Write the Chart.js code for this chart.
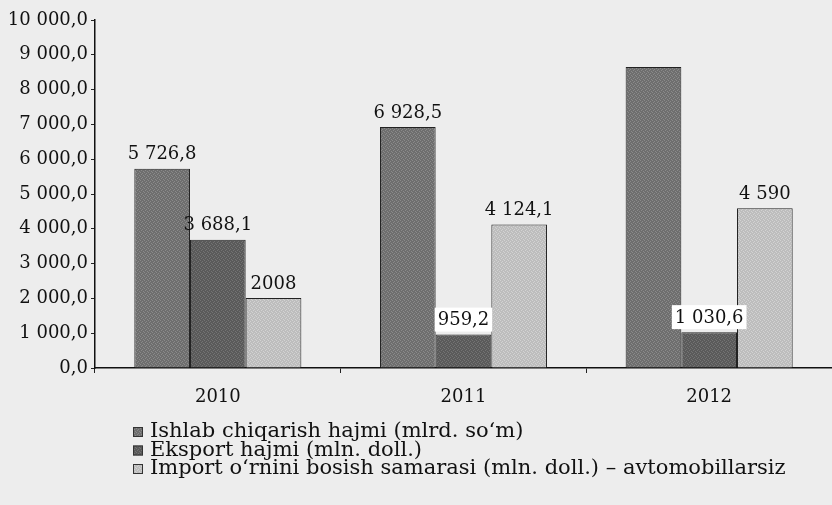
<!DOCTYPE html>
<html>
<head>
<meta charset="utf-8">
<script src="https://cdn.jsdelivr.net/npm/chart.js@4"></script>
<style>
  html, body { margin: 0; padding: 0; background: #ededed; }
  #wrap { width: 832px; height: 505px; position: relative; }
</style>
</head>
<body>
<div id="wrap"><canvas id="myChart" width="832" height="505"></canvas></div>
<script>
const years = ['2010', '2011', '2012'];
const production = [5726.8, 6928.5, 8650];
const exportVol = [3688.1, 959.2, 1030.6];
const importSub = [2008, 4124.1, 4590];
const productionText = ['5 726,8', '6 928,5', null];
const exportText = ['3 688,1', '959,2', '1 030,6'];
const importText = ['2008', '4 124,1', '4 590'];
const yTicks = ['0,0', '1 000,0', '2 000,0', '3 000,0', '4 000,0', '5 000,0',
  '6 000,0', '7 000,0', '8 000,0', '9 000,0', '10 000,0'];
const seriesNames = [
  'Ishlab chiqarish hajmi (mlrd. so‘m)',
  'Eksport hajmi (mln. doll.)',
  'Import o‘rnini bosish samarasi (mln. doll.) – avtomobillarsiz'
];

const SERIF = '"DejaVu Serif", "Liberation Serif", serif';

// grainy fill like the printed halftone
function grain(a, b) {
  const c = document.createElement('canvas');
  c.width = 4; c.height = 4;
  const g = c.getContext('2d');
  g.fillStyle = a; g.fillRect(0, 0, 4, 4);
  g.fillStyle = b;
  g.fillRect(0, 0, 1, 1); g.fillRect(2, 1, 1, 1); g.fillRect(1, 2, 1, 1); g.fillRect(3, 3, 1, 1);
  return g;
}
const ctx = document.getElementById('myChart').getContext('2d');
const fills = [
  ctx.createPattern(grain('#6e6e6e', '#8a8a8a').canvas, 'repeat'),
  ctx.createPattern(grain('#5a5a5a', '#737373').canvas, 'repeat'),
  ctx.createPattern(grain('#bdbdbd', '#d2d2d2').canvas, 'repeat')
];
const texts = [productionText, exportText, importText];

const valueLabels = {
  id: 'valueLabels',
  afterDatasetsDraw(chart) {
    const c = chart.ctx;
    c.save();
    c.font = '18px ' + SERIF;
    c.textAlign = 'center';
    c.textBaseline = 'bottom';
    chart.data.datasets.forEach((ds, i) => {
      chart.getDatasetMeta(i).data.forEach((bar, j) => {
        const t = texts[i][j];
        if (!t) return;
        const y = bar.y - 5;
        if (i === 1 && j > 0) {
          const w = c.measureText(t).width;
          c.fillStyle = '#ffffff';
          c.fillRect(bar.x - w / 2 - 3, y - 22, w + 6, 24);
        }
        c.fillStyle = '#111';
        c.fillText(t, bar.x, y);
      });
    });
    c.restore();
  }
};

const bottomLegend = {
  id: 'bottomLegend',
  afterDraw(chart) {
    const c = chart.ctx;
    c.save();
    c.font = '21px ' + SERIF;
    c.textBaseline = 'middle';
    c.textAlign = 'left';
    const x0 = 133, y0 = 432, step = 18.5;
    chart.data.datasets.forEach((ds, i) => {
      const y = y0 + i * step;
      c.fillStyle = fills[i];
      c.fillRect(x0, y - 5, 10, 10);
      c.strokeStyle = '#333';
      c.lineWidth = 1;
      c.strokeRect(x0 + 0.5, y - 4.5, 9, 9);
      c.fillStyle = '#111';
      c.fillText(ds.label, x0 + 17, y);
    });
    c.restore();
  }
};

new Chart(ctx, {
  type: 'bar',
  data: {
    labels: years,
    datasets: [
      { label: seriesNames[0], data: production, backgroundColor: fills[0], borderColor: '#222', borderWidth: 1 },
      { label: seriesNames[1], data: exportVol, backgroundColor: fills[1], borderColor: '#222', borderWidth: 1 },
      { label: seriesNames[2], data: importSub, backgroundColor: fills[2], borderColor: '#222', borderWidth: 1 }
    ]
  },
  options: {
    responsive: false,
    animation: false,
    layout: { padding: { top: 20, right: 0, bottom: 85, left: 0 } },
    datasets: { bar: { barPercentage: 1, categoryPercentage: 0.68 } },
    scales: {
      y: {
        min: 0,
        max: 10000,
        afterFit(scale) { scale.width = 95; },
        ticks: {
          stepSize: 1000,
          color: '#111',
          font: { family: SERIF, size: 18 },
          padding: 3,
          callback: (v, i) => yTicks[i]
        },
        grid: { display: true, drawOnChartArea: false, tickLength: 4, color: '#222' },
        border: { display: true, color: '#111', width: 1.5 }
      },
      x: {
        afterFit(scale) { scale.height = 52; },
        ticks: {
          color: '#111',
          font: { family: SERIF, size: 18 },
          padding: 14
        },
        grid: { display: true, offset: true, drawOnChartArea: false, tickLength: 5, color: '#222' },
        border: { display: true, color: '#111', width: 1.5 }
      }
    },
    plugins: {
      legend: { display: false },
      tooltip: { enabled: false }
    }
  },
  plugins: [valueLabels, bottomLegend]
});
</script>
</body>
</html>
